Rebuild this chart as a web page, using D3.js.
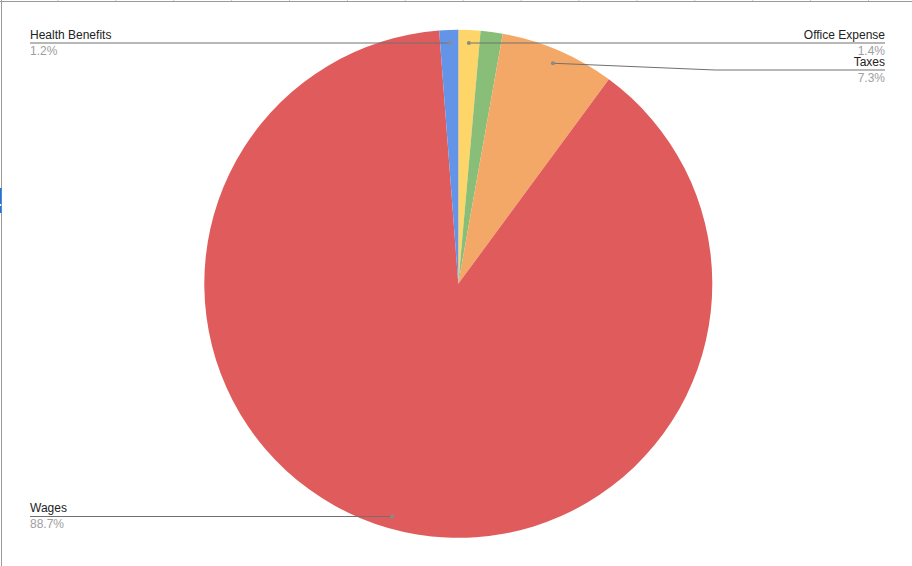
<!DOCTYPE html>
<html>
<head>
<meta charset="utf-8">
<script src="https://cdn.jsdelivr.net/npm/d3@7/dist/d3.min.js"></script>
<style>
html,body{margin:0;padding:0;background:#fff;}
svg{display:block;font-family:"Liberation Sans",Arial,sans-serif;}
</style>
</head>
<body>
<svg id="chart" width="912" height="566"></svg>
<script>
// Data (clockwise from 12 o'clock)
const categories = ["Office Expense", "Other", "Taxes", "Wages", "Health Benefits"];
const values = [1.4, 1.4, 7.3, 88.7, 1.2];
const percentLabels = ["1.4%", "1.4%", "7.3%", "88.7%", "1.2%"];
const showLabel = [true, false, true, true, true];
const colors = ["#fdd568", "#88be77", "#f4a867", "#e05c5c", "#6494e8"];

const W = 912, H = 566;
const cx = 458.3, cy = 283.8, R = 254;

const svg = d3.select("#chart");

// frame (sheet border)
svg.append("line").attr("x1", 0).attr("x2", W).attr("y1", 1.5).attr("y2", 1.5)
  .attr("stroke", "#9a9a9a").attr("stroke-width", 1);
svg.append("line").attr("x1", 1.5).attr("x2", 1.5).attr("y1", 0).attr("y2", H)
  .attr("stroke", "#9a9a9a").attr("stroke-width", 1);
d3.range(1, 16).forEach(i => {
  svg.append("line").attr("x1", i * 57.9).attr("x2", i * 57.9).attr("y1", 0).attr("y2", 1)
    .attr("stroke", "#c8c8c8").attr("stroke-width", 1);
});
svg.append("rect").attr("x", 0).attr("y", 188).attr("width", 1.5).attr("height", 16).attr("fill", "#1a73e8");
svg.append("rect").attr("x", 0).attr("y", 206).attr("width", 1.5).attr("height", 7).attr("fill", "#1a73e8");

const data = categories.map((c, i) => ({ name: c, value: values[i], pct: percentLabels[i], show: showLabel[i], color: colors[i] }));

const pie = d3.pie().value(d => d.value).sort(null).startAngle(0).endAngle(2 * Math.PI);
const arcs = pie(data);
const arc = d3.arc().innerRadius(0).outerRadius(R);
const dotArc = d3.arc().innerRadius(240).outerRadius(240);

const g = svg.append("g").attr("transform", `translate(${cx},${cy})`);
g.selectAll("path").data(arcs).enter().append("path")
  .attr("d", arc).attr("fill", d => d.data.color);

// label layout (positions only)
const layout = {
  "Office Expense": { side: "right", lineY: 43, bendX: null },
  "Taxes": { side: "right", lineY: 70, bendX: 715 },
  "Wages": { side: "left", lineY: 516.5, bendX: null },
  "Health Benefits": { side: "left", lineY: 43, bendX: null }
};
const leftX = 30, rightX = 885;

const lg = svg.append("g");
arcs.filter(a => a.data.show).forEach(a => {
  const L = layout[a.data.name];
  const c = dotArc.centroid(a);
  const px = cx + c[0], py = cy + c[1];
  const endX = L.side === "left" ? leftX : rightX;
  const pts = L.bendX != null
    ? [[px, py], [L.bendX, L.lineY], [endX, L.lineY]]
    : [[px, L.lineY], [endX, L.lineY]];
  lg.append("path").attr("d", d3.line()(pts))
    .attr("fill", "none").attr("stroke", "#707070").attr("stroke-width", 1);
  lg.append("circle").attr("cx", px).attr("cy", L.bendX != null ? py : L.lineY).attr("r", 2)
    .attr("fill", "#8a8a8a");
  const anchor = L.side === "left" ? "start" : "end";
  lg.append("text").attr("x", endX).attr("y", L.lineY - 4.5)
    .attr("text-anchor", anchor).attr("font-size", 12).attr("fill", "#222")
    .text(a.data.name);
  lg.append("text").attr("x", endX).attr("y", L.lineY + 11.5)
    .attr("text-anchor", anchor).attr("font-size", 12).attr("fill", "#9e9e9e")
    .text(a.data.pct);
});
</script>
</body>
</html>
